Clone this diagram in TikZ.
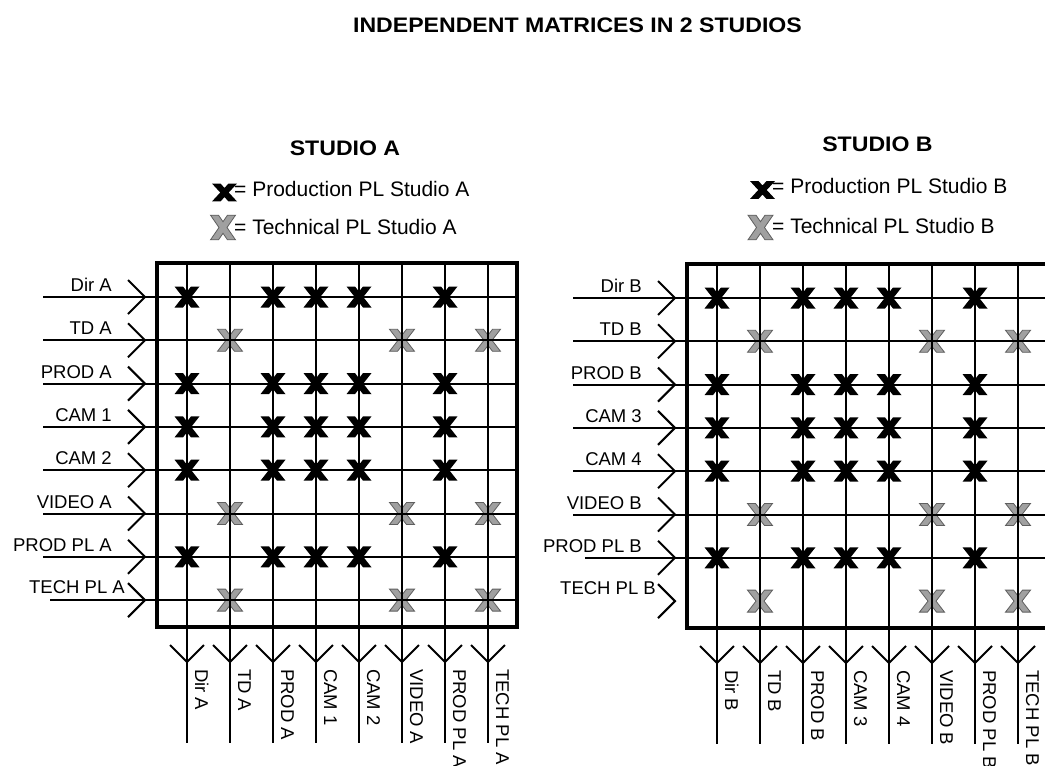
\documentclass[tikz,border=0pt]{standalone}
\usepackage{fontspec}
\setmainfont{Liberation Sans}
\definecolor{xgray}{RGB}{160,160,160}
\definecolor{xdark}{RGB}{95,95,95}
\tikzset{
  grid/.style={line width=2pt},
  frm/.style={draw, line width=4pt, minimum width=360pt, minimum height=364pt, inner sep=0pt, line join=miter},
  lbl/.style={font=\fontsize{18.5}{22}\selectfont, inner sep=0pt},
  leg/.style={font=\fontsize{21}{24}\selectfont, inner sep=0pt},
  ttl/.style={font=\bfseries\fontsize{21}{24}\selectfont, inner sep=0pt, xscale=1.1},
  bx/.pic={\fill[black] (-12.5,-10.5) -- (-4,-10.5) -- (0,-5.4) -- (4,-10.5) -- (12.5,-10.5) -- (4.25,0)
      -- (12.5,10.5) -- (4,10.5) -- (0,5.4) -- (-4,10.5) -- (-12.5,10.5) -- (-4.25,0) -- cycle;},
  gx/.pic={\filldraw[fill=xgray, draw=xdark, line width=0.8pt] (-12.5,-11) -- (-4.5,-11) -- (0,-5.2)
      -- (4.5,-11) -- (12.5,-11) -- (4,0) -- (12.5,11) -- (4.5,11) -- (0,5.2) -- (-4.5,11)
      -- (-12.5,11) -- (-4,0) -- cycle;}
}
\newcommand\mstudio[2]{%
  % technical crosses (under the grid)
  \foreach \r in {2,6,8} \foreach \c in {2,6,8}
    \pic at ({187+43*(\c-1)},{297+43.3*(\r-1)}) {gx};
  % rows and columns
  \foreach \lab/\sx/\ex/\bo [count=\i] in {#2} {
    \pgfmathsetmacro\yy{297+43.3*(\i-1)}
    \pgfmathsetmacro\xx{187+43*(\i-1)}
    % input row
    \node[lbl, anchor=base east] (#1in\i) at (\ex,\yy-\bo) {\lab};
    \ifnum\sx>0
      \coordinate (#1rs\i) at (\sx,\yy);
      \coordinate (#1re\i) at (517,\yy);
      \draw[grid] (#1rs\i) -- (#1re\i);
    \fi
    \draw[grid] (128,\yy-17) -- (145,\yy) -- (128,\yy+17);
    % output column
    \coordinate (#1ct\i) at (\xx,263);
    \coordinate (#1cb\i) at (\xx,743);
    \draw[grid] (#1ct\i) -- (#1cb\i);
    \draw[grid] (\xx-17,645) -- (\xx,662) -- (\xx+17,645);
    \node[lbl, rotate=-90, anchor=base west] (#1out\i) at (\xx+8,669) {\lab};
  }
  \node[frm] (#1box) at (337,445) {};
  % production crosses
  \foreach \r in {1,3,4,5,7} \foreach \c in {1,3,4,5,7}
    \pic at ({187+43*(\c-1)},{297+43.3*(\r-1)}) {bx};
}
\begin{document}
\begin{tikzpicture}[x=1pt,y=-1pt]
\useasboundingbox (0,0) rectangle (1045,766);
\clip (0,0) rectangle (1045,766);
\fill[white] (0,0) rectangle (1045,766);

\node[ttl, anchor=base] (title) at (577.5,32) {INDEPENDENT MATRICES IN 2 STUDIOS};

% legend A
\node[ttl, anchor=base] (Ahead) at (345,155) {STUDIO A};
\pic[yscale=0.85] at (224.5,192.5) {bx};
\node[leg, anchor=base west] (Aprod) at (234,196) {= Production PL Studio A};
\pic[yscale=1.12] at (223,227.5) {gx};
\node[leg, anchor=base west] (Atech) at (234,234) {= Technical PL Studio A};

% legend B
\node[ttl, anchor=base] (Bhead) at (877.5,151) {STUDIO B};
\pic[yscale=0.85] at (762.5,190) {bx};
\node[leg, anchor=base west] (Bprod) at (772,193) {= Production PL Studio B};
\pic[yscale=1.12] at (760.5,227.5) {gx};
\node[leg, anchor=base west] (Btech) at (772,233) {= Technical PL Studio B};

\mstudio{A}{Dir A/43/112/5.5, TD A/43/112/5.5, PROD A/43/112/5.5, CAM 1/43/112/5.5,
  CAM 2/43/112/5.5, VIDEO A/43/112/5.5, PROD PL A/43/112/5.5, TECH PL A/50/125/7}

\begin{scope}[shift={(530,1)}]
\mstudio{B}{Dir B/43/112/5.5, TD B/43/112/5.5, PROD B/43/112/5.5, CAM 3/43/112/5.5,
  CAM 4/43/112/5.5, VIDEO B/43/112/5.5, PROD PL B/55/112/5.5, TECH PL B/0/126/7}
\end{scope}
\end{tikzpicture}
\end{document}
